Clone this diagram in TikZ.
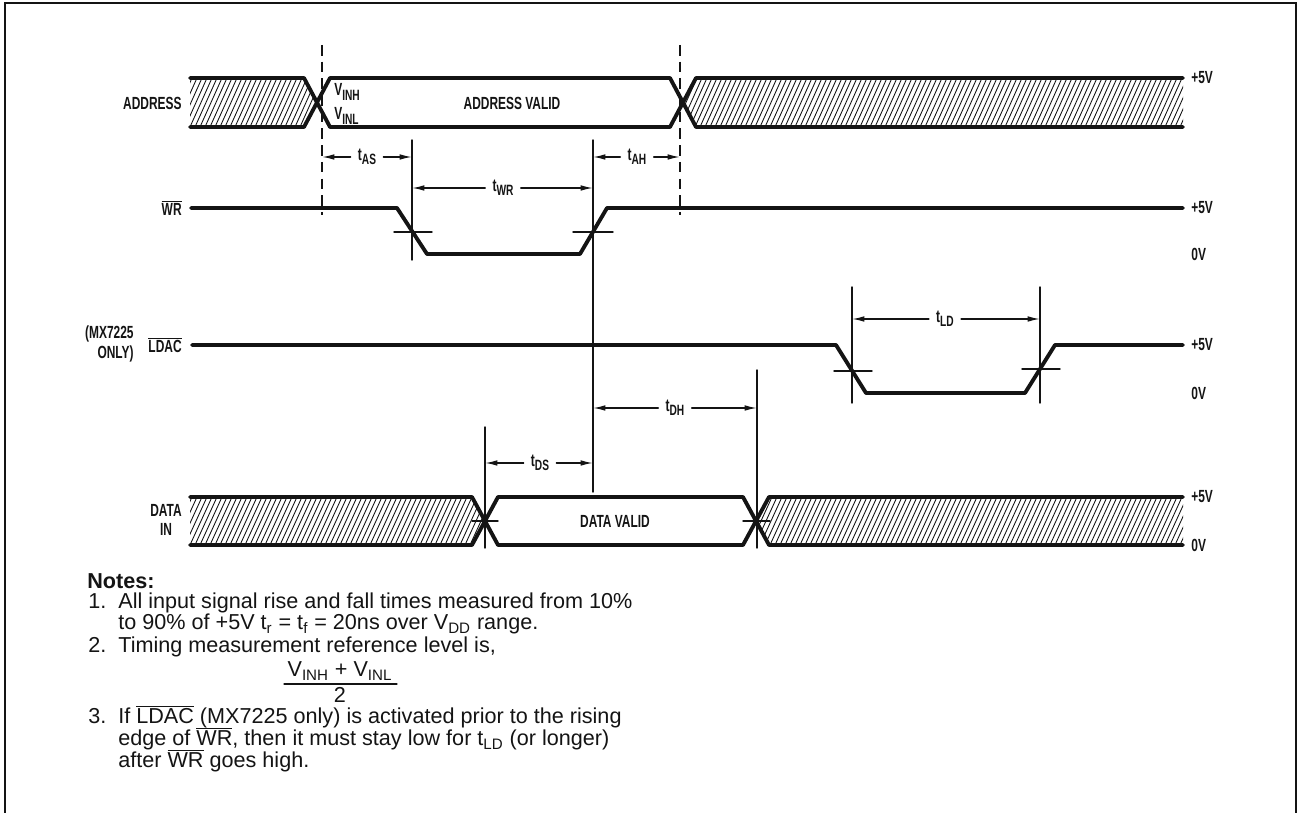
\documentclass[tikz,border=0pt]{standalone}
\usepackage{fontspec}
\setmainfont{Liberation Sans}
\newfontfamily\lblfont[FakeStretch=0.68]{Liberation Sans}
\usetikzlibrary{arrows.meta}
\definecolor{tdink}{HTML}{141414}
\newcommand\lowsub[1]{\raisebox{-0.45ex}{\fontsize{8.5}{9}\selectfont #1}}
\newcommand\ovl[1]{$\overline{\hbox{#1}}$}

\begin{document}
\begin{tikzpicture}[x=0.02cm,y=-0.02cm,line cap=round,
    sig/.style={tdink,line width=2.2pt,line join=round},
    hatch/.style={tdink,line width=0.5pt},
    dim/.style={tdink,line width=0.8pt},
    dimarrow/.style={tdink,line width=0.8pt,-{Latex[length=7pt,width=3.2pt]}},
    guide/.style={tdink,line width=0.9pt,line cap=butt,dash pattern=on 6pt off 3.5pt},
    lbl/.style={font=\lblfont\bfseries\fontsize{10}{11}\selectfont,text=tdink,inner sep=0pt},
    tlbl/.style={lbl,inner sep=4pt},
    note/.style={font=\fontsize{12.3}{13}\selectfont,text=tdink,anchor=base west,inner sep=0pt}]
    \useasboundingbox (0,0) rectangle (1303,813);
    \draw[tdink,line width=1.2pt] (5,813) -- (5,3) -- (1296,3) -- (1296,813);
    % hatched (don't care) regions
    \begin{scope}
      \clip (190,78) -- (304,78) -- (317,102.5) -- (304,127) -- (190,127) -- cycle;
      \foreach \hx in {160,165,...,320} \draw[hatch] (\hx,127) -- ++(22,-49);
    \end{scope}
    \begin{scope}
      \clip (696,78) -- (1183,78) -- (1183,127) -- (696,127) -- (683,102.5) -- cycle;
      \foreach \hx in {660,665,...,1190} \draw[hatch] (\hx,127) -- ++(22,-49);
    \end{scope}
    \begin{scope}
      \clip (190,497) -- (472,497) -- (485,521) -- (472,545) -- (190,545) -- cycle;
      \foreach \hx in {160,165,...,490} \draw[hatch] (\hx,545) -- ++(22,-48);
    \end{scope}
    \begin{scope}
      \clip (769,497) -- (1183,497) -- (1183,545) -- (769,545) -- (756,521) -- cycle;
      \foreach \hx in {730,735,...,1190} \draw[hatch] (\hx,545) -- ++(22,-48);
    \end{scope}
    % signals
    \draw[sig] (190,78) -- (304,78) -- (330,127) -- (670,127) -- (696,78) -- (1183,78);
    \draw[sig] (190,127) -- (304,127) -- (330,78) -- (670,78) -- (696,127) -- (1183,127);
    \draw[sig] (191,208) -- (397,208) -- (427,254) -- (580,254) -- (607,208) -- (1183,208);
    \draw[sig] (192,345) -- (836,345) -- (866,393) -- (1025,393) -- (1055,345) -- (1183,345);
    \draw[sig] (190,497) -- (472,497) -- (498,545) -- (743,545) -- (769,497) -- (1183,497);
    \draw[sig] (190,545) -- (472,545) -- (498,497) -- (743,497) -- (769,545) -- (1183,545);
    % reference lines
    \draw[guide] (322,45) -- (322,215);
    \draw[guide] (680,45) -- (680,215);
    \draw[dim] (412,140) -- (412,260);
    \draw[dim] (593,140) -- (593,492);
    \draw[dim] (852,287) -- (852,403);
    \draw[dim] (1040,287) -- (1040,403);
    \draw[dim] (757,370) -- (757,548);
    \draw[dim] (485,427) -- (485,548);
    \draw[dim] (394,232) -- (432,232);
    \draw[dim] (573,232) -- (613,232);
    \draw[dim] (834,371) -- (872,371);
    \draw[dim] (1022,369) -- (1060,369);
    \draw[dim] (472,521) -- (498,521);
    \draw[dim] (743,521) -- (770,521);
    % signal names
    \node[lbl,anchor=east] (addr) at (182,103) {ADDRESS};
    \node[lbl,anchor=east] (wr) at (182,208) {\ovl{WR}};
    \node[lbl,anchor=east,align=right] (only) at (134,344) {(MX7225\\ONLY)};
    \node[lbl,anchor=east] (ldac) at (182,345) {\ovl{LDAC}};
    \node[lbl,align=center] (datain) at (166,520) {DATA\\IN};
    \node[lbl,anchor=west] (vinh) at (334,92) {V\lowsub{INH}};
    \node[lbl,anchor=west] (vinl) at (334,116) {V\lowsub{INL}};
    \node[lbl] (addrvalid) at (512,103) {ADDRESS VALID};
    \node[lbl] (datavalid) at (615,521) {DATA VALID};
    % levels
    \foreach \ly/\lv [count=\li] in {78/+5V,208/+5V,254/0V,345/+5V,393/0V,497/+5V,545/0V}
      \node[lbl,anchor=west] (lev\li) at (1191,\ly) {\lv};
    % timing arrows
    \coordinate (asL) at (322,157); \coordinate (asR) at (412,157);
    \coordinate (ahL) at (593,157); \coordinate (ahR) at (680,157);
    \coordinate (wrL) at (412,188); \coordinate (wrR) at (593,188);
    \coordinate (ldL) at (852,319); \coordinate (ldR) at (1040,319);
    \coordinate (dhL) at (593,408); \coordinate (dhR) at (757,408);
    \coordinate (dsL) at (485,463); \coordinate (dsR) at (593,463);
    \node[tlbl] (tas) at (367,157) {t\lowsub{AS}};
    \node[tlbl] (tah) at (637,157) {t\lowsub{AH}};
    \node[tlbl] (twr) at (503,188) {t\lowsub{WR}};
    \node[tlbl] (tld) at (945,319) {t\lowsub{LD}};
    \node[tlbl] (tdh) at (675,408) {t\lowsub{DH}};
    \node[tlbl] (tds) at (540,463) {t\lowsub{DS}};
    \foreach \tn/\ta/\tb in {tas/asL/asR,tah/ahL/ahR,twr/wrL/wrR,tld/ldL/ldR,tdh/dhL/dhR,tds/dsL/dsR}{
      \draw[dimarrow] (\tn) -- (\ta);
      \draw[dimarrow] (\tn) -- (\tb);
    }
    % notes
    \node[note,font=\bfseries\fontsize{12.3}{13}\selectfont] (notes) at (87,589) {Notes:};
    \node[note] (n1) at (88,609) {1.};
    \node[note] (n1a) at (118,609) {All input signal rise and fall times measured from 10\%};
    \node[note] (n1b) at (118,630) {to 90\% of +5V t\textsubscript{r} = t\textsubscript{f} = 20ns over V\textsubscript{DD} range.};
    \node[note] (n2) at (88,653) {2.};
    \node[note] (n2a) at (118,653) {Timing measurement reference level is,};
    \node[note,anchor=base] (fracnum) at (340,677) {V\textsubscript{INH} + V\textsubscript{INL}};
    \node[note,anchor=base] (fracden) at (340,703) {2};
    \draw[tdink,line width=0.7pt] (284,684) -- (397,684);
    \node[note] (n3) at (88,724) {3.};
    \node[note] (n3a) at (118,724) {If \ovl{LDAC} (MX7225 only) is activated prior to the rising};
    \node[note] (n3b) at (118,746) {edge of \ovl{WR}, then it must stay low for t\textsubscript{LD} (or longer)};
    \node[note] (n3c) at (118,768) {after \ovl{WR} goes high.};
\end{tikzpicture}
\end{document}
